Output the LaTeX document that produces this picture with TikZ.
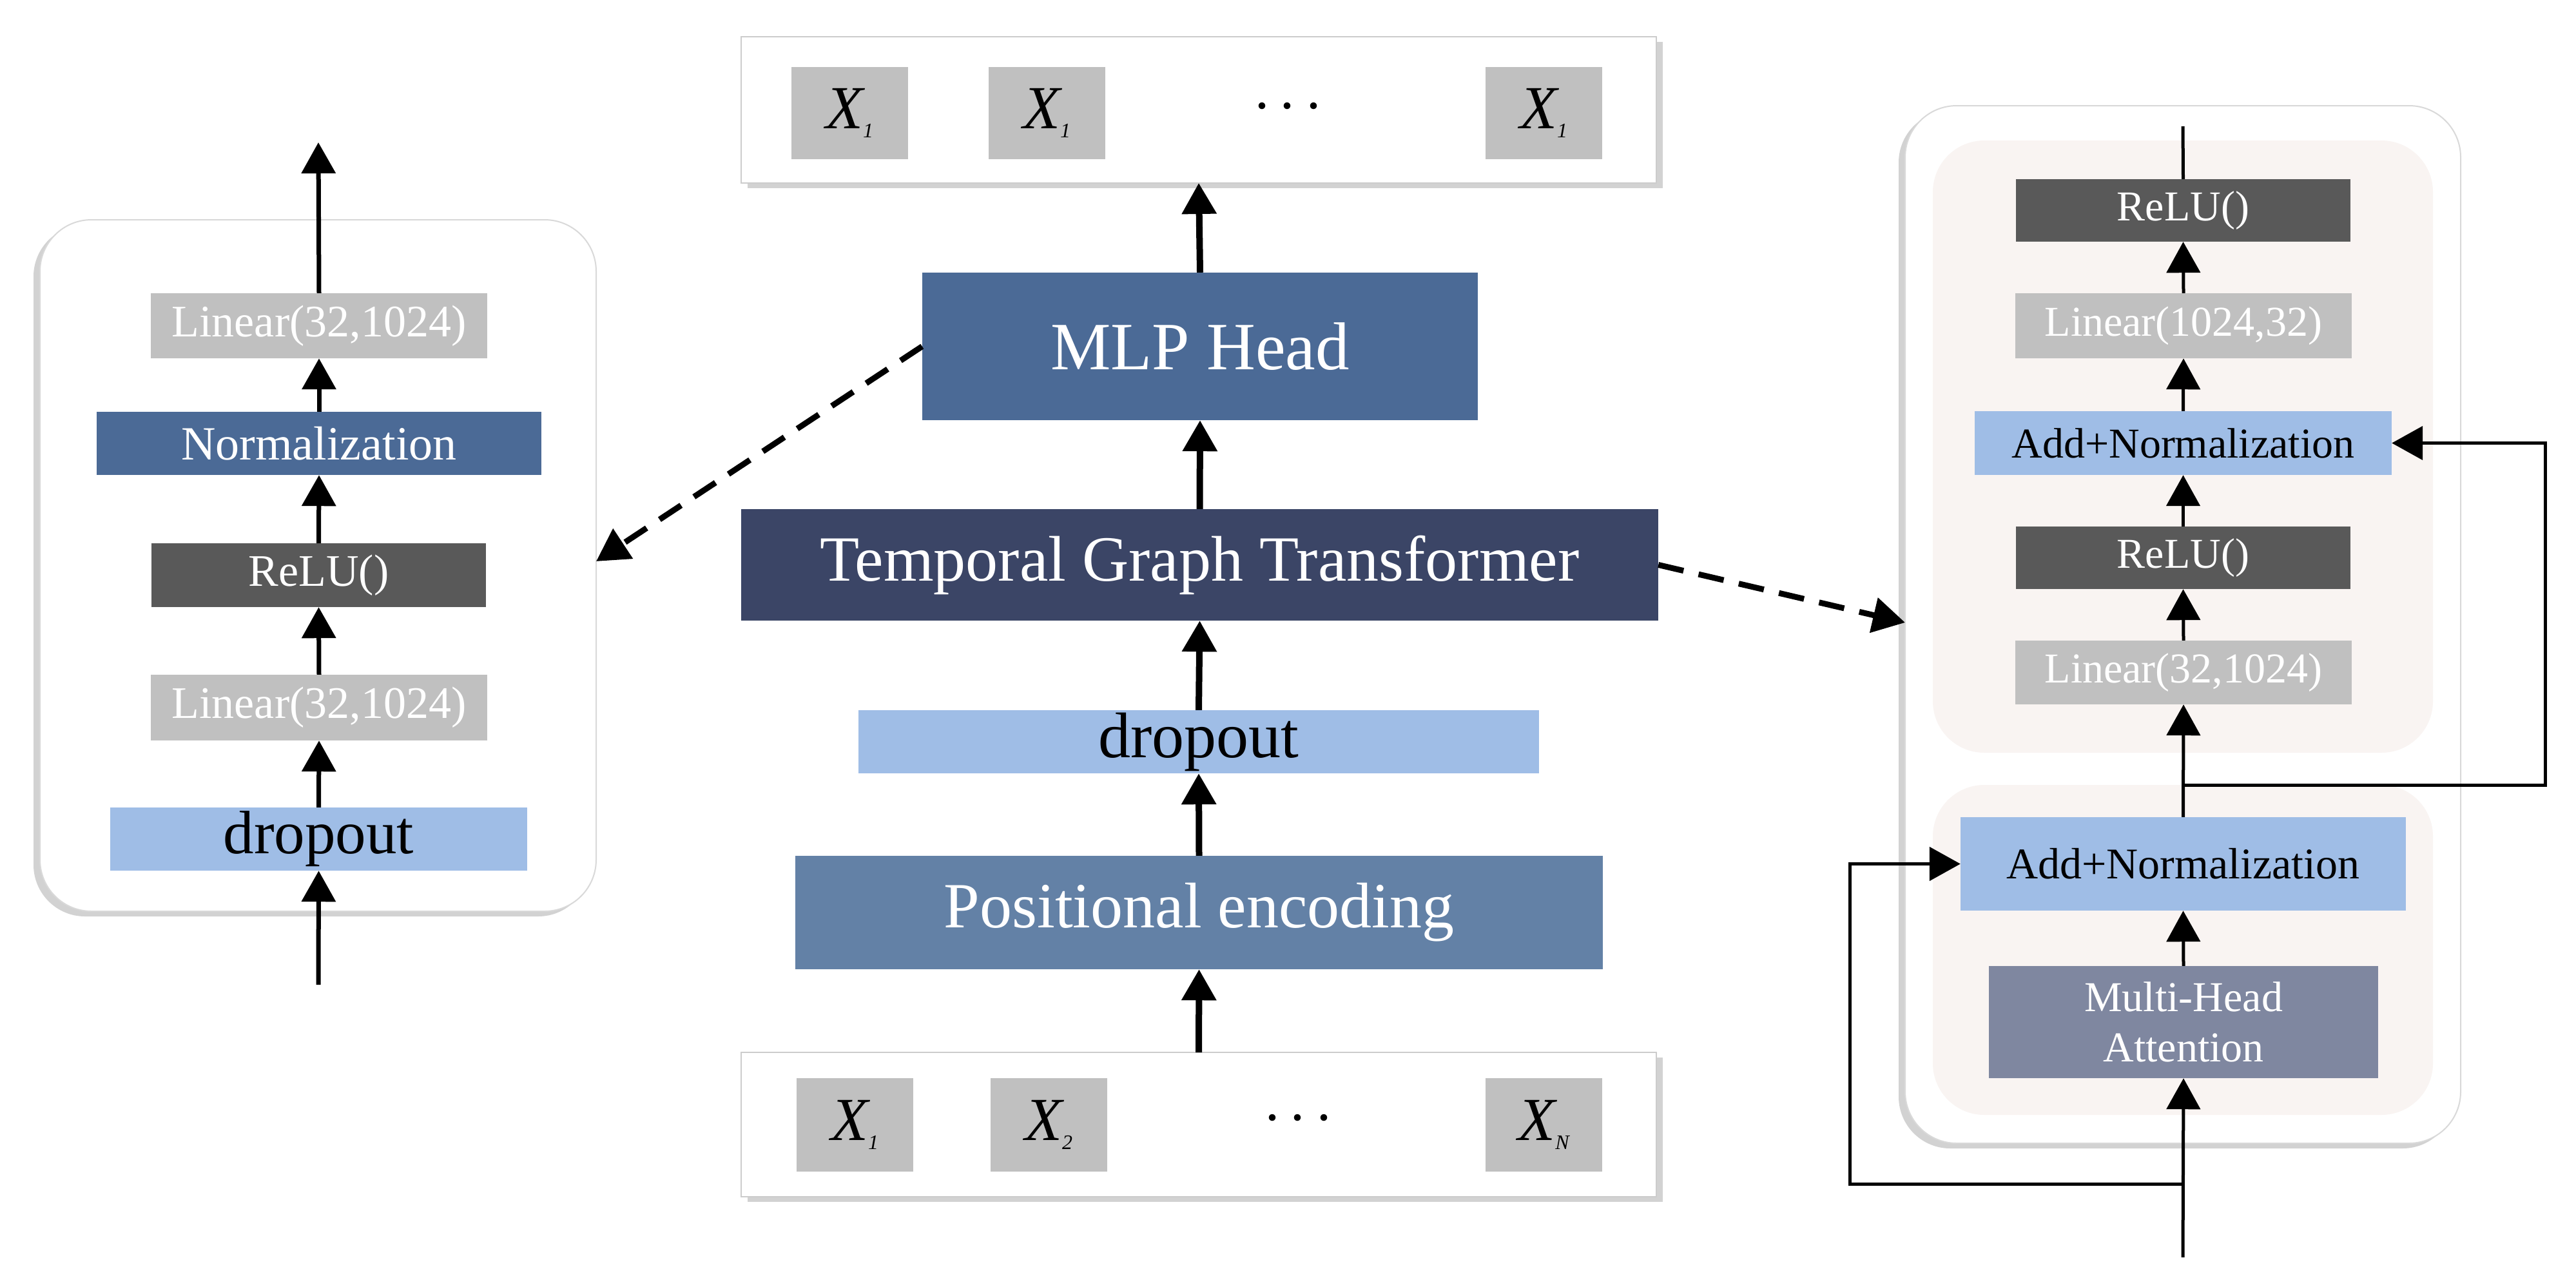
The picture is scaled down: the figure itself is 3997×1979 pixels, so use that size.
\documentclass[tikz,border=0pt]{standalone}
\usepackage{fontspec}
\setmainfont{Liberation Serif}
\usetikzlibrary{arrows.meta,shadows}
\definecolor{lgray}{HTML}{C0C0C0}
\definecolor{dgray}{HTML}{595959}
\definecolor{nblue}{HTML}{4B6A96}
\definecolor{dblue}{HTML}{3B4566}
\definecolor{pblue}{HTML}{6381A6}
\definecolor{lblue}{HTML}{9FBDE6}
\definecolor{mha}{HTML}{7F87A0}
\definecolor{pink}{HTML}{F9F4F2}
\newcommand{\fs}[1]{\fontsize{#1}{#1}\selectfont}
\newcommand{\xsub}[1]{{\fs{95}\itshape X}\raisebox{-14pt}{\fs{32}\itshape #1}}
\tikzset{
 x=1pt,y=-1pt,
 blk/.style={draw=none,inner sep=0pt,text=white,align=center},
 arr/.style={line width=#1,-{Triangle[width=52pt,length=48pt]}},
 arr/.default=7pt,
 ln/.style={line width=5pt},
 dsh/.style={line width=9pt,dash pattern=on 40pt off 24pt,-{Triangle[width=54pt,length=50pt]}},
 panel/.style={fill=white,draw=gray!30,line width=2pt,rounded corners=80pt,drop shadow={shadow xshift=-10pt,shadow yshift=-8pt,opacity=0.35}},
 strip/.style={fill=white,draw=gray!40,line width=2pt,drop shadow={shadow xshift=10pt,shadow yshift=-8pt,opacity=0.35}},
 xb/.style={fill=lgray,inner sep=0pt},
}
\def\blkbox#1#2#3#4#5#6#7{\node[blk,fill=#6,minimum width=#4-#2,minimum height=#5-#3] (#1) at ({(#2+#4)/2},{(#3+#5)/2}) {#7};}
\begin{document}
\begin{tikzpicture}
\useasboundingbox[fill=white] (0,0) rectangle (3997,1979);
% ---------- left panel
\path[panel] (62,341) rectangle (925,1414);
\blkbox{lA}{234}{455}{756}{556}{lgray}{\fs{70}Linear(32,1024)}
\blkbox{lB}{150}{639}{840}{737}{nblue}{\fs{74}Normalization}
\blkbox{lC}{235}{843}{754}{942}{dgray}{\fs{70}ReLU()}
\blkbox{lD}{234}{1047}{756}{1149}{lgray}{\fs{70}Linear(32,1024)}
\blkbox{lE}{171}{1253}{818}{1351}{lblue}{\color{black}\fs{95}dropout}
\coordinate (lin) at (494,1528);
\coordinate (lout) at (494,221);
\draw[arr] (lin) -- (lE.south);
\draw[arr] (lE.north) -- (lD.south);
\draw[arr] (lD.north) -- (lC.south);
\draw[arr] (lC.north) -- (lB.south);
\draw[arr] (lB.north) -- (lA.south);
\draw[arr] (lA.north) -- (lout);
\coordinate (lpanel) at (925,871);
% ---------- center
\path[strip] (1150,57) rectangle (2570,284);
\node[xb,minimum width=181,minimum height=143] (o1) at (1318,175) {\xsub{1}};
\node[xb,minimum width=181,minimum height=143] (o2) at (1624,175) {\xsub{1}};
\node (od) at (1998,165) {\fs{88}.\hspace{18pt}.\hspace{18pt}.};
\node[xb,minimum width=181,minimum height=143] (o3) at (2395,175) {\xsub{1}};
\coordinate (otop) at (1860,284);
\blkbox{mlp}{1431}{423}{2293}{652}{nblue}{\fs{105}MLP Head}
\blkbox{tgt}{1150}{790}{2573}{963}{dblue}{\fs{100}Temporal Graph Transformer}
\blkbox{cdr}{1332}{1102}{2388}{1200}{lblue}{\color{black}\fs{100}dropout}
\blkbox{pos}{1234}{1328}{2487}{1504}{pblue}{\fs{100}Positional encoding}
\path[strip] (1150,1633) rectangle (2570,1857);
\node[xb,minimum width=181,minimum height=145] (i1) at (1326,1745) {\xsub{1}};
\node[xb,minimum width=181,minimum height=145] (i2) at (1627,1745) {\xsub{2}};
\node (id) at (2014,1735) {\fs{88}.\hspace{18pt}.\hspace{18pt}.};
\node[xb,minimum width=181,minimum height=145] (i3) at (2395,1745) {\xsub{N}};
\coordinate (ibot) at (1860,1633);
\draw[arr=10pt] (ibot) -- (pos.south);
\draw[arr=10pt] (pos.north) -- (cdr.south);
\draw[arr=10pt] (cdr.north) -- (tgt.south);
\draw[arr=10pt] (tgt.north) -- (mlp.south);
\draw[arr=10pt] (mlp.north) -- (otop);
\draw[dsh] (mlp.west) -- (lpanel);
% ---------- right panel
\path[panel] (2956,164) rectangle (3818,1774);
\fill[pink,rounded corners=80pt] (2999,218) rectangle (3775,1168);
\fill[pink,rounded corners=80pt] (2999,1218) rectangle (3775,1730);
\coordinate (rpanel) at (2956,966);
\draw[dsh] (tgt.east) -- (rpanel);
\blkbox{rA}{3128}{278}{3647}{375}{dgray}{\fs{66}ReLU()}
\blkbox{rB}{3127}{455}{3649}{556}{lgray}{\fs{66}Linear(1024,32)}
\blkbox{rC}{3064}{638}{3711}{737}{lblue}{\color{black}\fs{66}Add+Normalization}
\blkbox{rD}{3128}{817}{3647}{914}{dgray}{\fs{66}ReLU()}
\blkbox{rE}{3127}{994}{3649}{1093}{lgray}{\fs{66}Linear(32,1024)}
\blkbox{rF}{3042}{1268}{3733}{1413}{lblue}{\color{black}\fs{68}Add+Normalization}
\node[blk,fill=mha,minimum width=604,minimum height=174,font=\fs{66}] (rG) at (3388,1586) {Multi-Head\\[12pt]Attention};
\coordinate (rin) at (3387,1951);
\coordinate (rs1) at (3387,1837);
\coordinate (rs1a) at (2870,1837);
\coordinate (rs2) at (3387,1218);
\coordinate (rs2a) at (3949,1218);
\coordinate (rtop) at (3387,196);
\draw[ln] (rA.north) -- (rtop);
\draw[arr=5pt] (rin) -- (rG.south);
\draw[arr=5pt] (rG.north) -- (rF.south);
\draw[arr=5pt] (rF.north) -- (rE.south);
\draw[arr=5pt] (rE.north) -- (rD.south);
\draw[arr=5pt] (rD.north) -- (rC.south);
\draw[arr=5pt] (rC.north) -- (rB.south);
\draw[arr=5pt] (rB.north) -- (rA.south);
\draw[arr=5pt] (rs1) -- (rs1a) |- (rF.west);
\draw[arr=5pt] (rs2) -- (rs2a) |- (rC.east);
\end{tikzpicture}
\end{document}
